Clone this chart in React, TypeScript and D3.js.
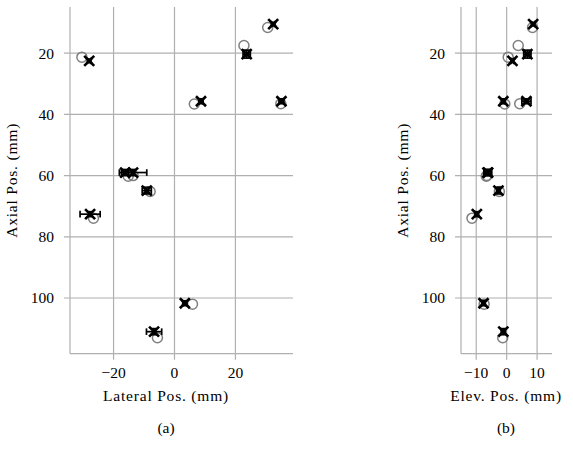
import * as d3 from 'd3'

// true target positions (mm)
const trueLat = [30.6, 22.8, -30.4, 6.5, 34.9, -15.2, -13.6, -8.0, -26.6, 5.9, -5.6]
const trueElev = [8.5, 3.8, 0.5, -0.6, 4.3, -6.7, -6.5, -2.4, -11.4, -7.4, -1.3]
const trueAxial = [11.6, 17.5, 21.3, 36.6, 36.5, 60.2, 60.0, 65.2, 73.9, 102.0, 113.0]

// estimated positions (mm)
const estLat = [32.4, 23.7, -28.0, 8.7, 35.1, -16.2, -13.6, -9.1, -27.7, 3.4, -6.7]
const estElev = [8.7, 6.8, 1.9, -1.1, 6.5, -6.3, -6.1, -2.7, -9.8, -7.6, -1.1]
const estAxial = [10.5, 20.3, 22.5, 35.7, 35.7, 59.0, 59.0, 64.9, 72.6, 101.7, 111.0]

// standard deviations of the estimates (mm)
const errLat = [0.6, 1.2, 0.6, 0.7, 0.8, 1.2, 4.5, 1.5, 3.3, 0.7, 2.5]
const errElev = [0.6, 1.2, 0.5, 0.6, 1.5, 1.2, 1.2, 0.6, 0.6, 0.6, 0.7]
const errAxial = [0.6, 1.3, 0.6, 0.8, 0.8, 1.0, 1.0, 1.1, 0.8, 0.8, 1.0]

const axialTicks = [20, 40, 60, 80, 100]
const latTicks = [-20, 0, 20]
const elevTicks = [-10, 0, 10]

const W = 573
const H = 459
const FONT = 'Liberation Serif, DejaVu Serif, serif'
const GRID = '#b0b0b0'
const CIRCLE = '#808080'
const INK = '#000'

const yScale = d3.scaleLinear().domain([4.9, 118.2]).range([7, 353.7])

type PanelProps = {
  x0: number
  x1: number
  domain: [number, number]
  ticks: number[]
  trueX: number[]
  estX: number[]
  errX: number[]
  xLabel: string
  caption: string
  labelCenter: number
  yLabelX: number
}

function fmt(v: number) {
  return v < 0 ? `\u2212${Math.abs(v)}` : `${v}`
}

const txt = { fontFamily: FONT, fontSize: 15.5, fill: INK }

function Panel(p: PanelProps) {
  const x = d3.scaleLinear().domain(p.domain).range([p.x0, p.x1])
  const [yTop, yBot] = yScale.range()
  const cap = 3.3
  const xs = 5
  return (
    <g>
      {/* grid */}
      {p.ticks.map((t) => (
        <line key={`gx${t}`} x1={x(t)} x2={x(t)} y1={yTop} y2={yBot + 6} stroke={GRID} strokeWidth={1.2} />
      ))}
      {axialTicks.map((t) => (
        <line key={`gy${t}`} x1={p.x0 - 6} x2={p.x1} y1={yScale(t)} y2={yScale(t)} stroke={GRID} strokeWidth={1.2} />
      ))}
      {/* spines */}
      <line x1={p.x0} x2={p.x0} y1={yTop} y2={yBot} stroke={GRID} strokeWidth={1.2} />
      <line x1={p.x0} x2={p.x1} y1={yBot} y2={yBot} stroke={GRID} strokeWidth={1.2} />

      {/* tick labels */}
      {axialTicks.map((t) => (
        <text key={`ly${t}`} x={p.x0 - 16} y={yScale(t)} dy="0.35em" textAnchor="end" style={txt}>
          {t}
        </text>
      ))}
      {p.ticks.map((t) => (
        <text key={`lx${t}`} x={x(t)} y={yBot + 19} dy="0.35em" textAnchor="middle" style={txt}>
          {fmt(t)}
        </text>
      ))}

      {/* axis labels */}
      <text x={p.labelCenter} y={396} dy="0.35em" textAnchor="middle" style={{ ...txt, letterSpacing: 0.8 }}>
        {p.xLabel}
      </text>
      <text
        transform={`translate(${p.yLabelX},${(yTop + yBot) / 2}) rotate(-90)`}
        dy="0.35em"
        textAnchor="middle"
        style={{ ...txt, letterSpacing: 0.8 }}
      >
        Axial Pos. (mm)
      </text>
      <text x={p.labelCenter} y={428} dy="0.35em" textAnchor="middle" style={txt}>
        {p.caption}
      </text>

      {/* true positions */}
      {p.trueX.map((v, i) => (
        <circle key={`c${i}`} cx={x(v)} cy={yScale(trueAxial[i])} r={5} fill="none" stroke={CIRCLE} strokeWidth={1.5} />
      ))}

      {/* estimates with error bars */}
      {p.estX.map((v, i) => {
        const cx = x(v)
        const cy = yScale(estAxial[i])
        const xl = x(v - p.errX[i])
        const xr = x(v + p.errX[i])
        const yt = yScale(estAxial[i] - errAxial[i])
        const yb = yScale(estAxial[i] + errAxial[i])
        return (
          <g key={`e${i}`} stroke="#000">
            <line x1={xl} x2={xr} y1={cy} y2={cy} strokeWidth={1.7} />
            <line x1={xl} x2={xl} y1={cy - cap} y2={cy + cap} strokeWidth={1.7} />
            <line x1={xr} x2={xr} y1={cy - cap} y2={cy + cap} strokeWidth={1.7} />
            <line x1={cx} x2={cx} y1={yt} y2={yb} strokeWidth={1.7} />
            <line x1={cx - cap} x2={cx + cap} y1={yt} y2={yt} strokeWidth={1.7} />
            <line x1={cx - cap} x2={cx + cap} y1={yb} y2={yb} strokeWidth={1.7} />
            <path d={`M${cx - xs},${cy - xs}L${cx + xs},${cy + xs}M${cx - xs},${cy + xs}L${cx + xs},${cy - xs}`} strokeWidth={2.6} />
          </g>
        )
      })}
    </g>
  )
}

export default function App() {
  return (
    <svg width={W} height={H} style={{ position: 'absolute', left: 0, top: 0, background: '#fff' }}>
      <Panel
        x0={70}
        x1={293}
        domain={[-34.3, 38.9]}
        ticks={latTicks}
        trueX={trueLat}
        estX={estLat}
        errX={errLat}
        xLabel="Lateral Pos. (mm)"
        caption="(a)"
        labelCenter={166}
        yLabelX={12}
      />
      <Panel
        x0={461}
        x1={552}
        domain={[-15, 14.9]}
        ticks={elevTicks}
        trueX={trueElev}
        estX={estElev}
        errX={errElev}
        xLabel="Elev. Pos. (mm)"
        caption="(b)"
        labelCenter={506}
        yLabelX={403}
      />
    </svg>
  )
}
